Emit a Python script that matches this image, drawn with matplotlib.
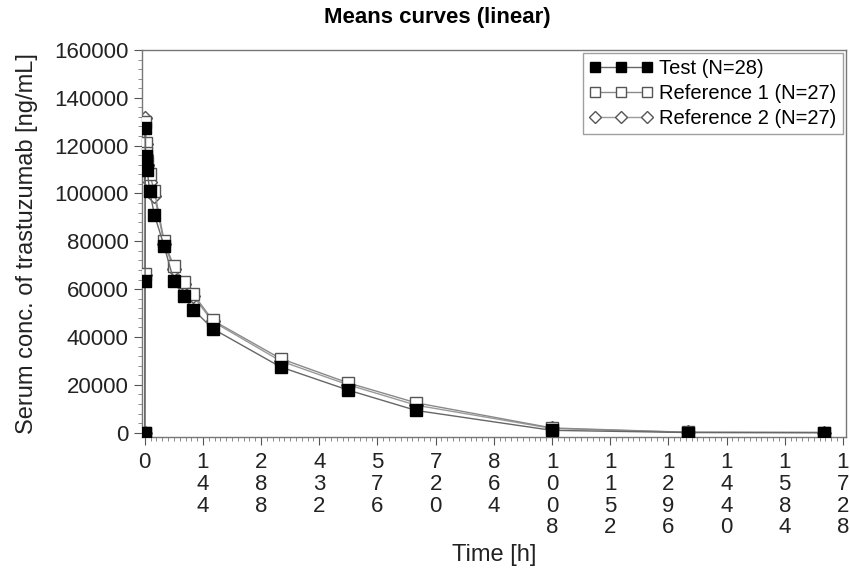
import matplotlib.pyplot as plt
from matplotlib.ticker import MultipleLocator
import numpy as np

plt.rcParams["font.family"] = ["Liberation Sans", "DejaVu Sans"]

# 時間と平均濃度
time_h = [0, 0.75, 1.5, 2, 4, 6, 12, 24, 48, 72, 96, 120, 168,
          336, 504, 672, 1008, 1344, 1680]

test_conc = [0, 63500, 127500, 115500, 112000, 110000, 101000, 91000,
             78000, 63500, 57000, 51500, 43500, 27500, 17800, 9300,
             1000, 100, 50]
ref1_conc = [0, 66500, 130000, 121000, 117000, 113000, 108000, 101000,
             80000, 69500, 63000, 58000, 47000, 31000, 20800, 12500,
             2000, 200, 100]
ref2_conc = [0, 66000, 131500, 120500, 116000, 112000, 105000, 99000,
             79000, 68500, 62000, 57000, 46500, 30000, 20000, 11500,
             1800, 150, 80]

x_ticks = [0, 144, 288, 432, 576, 720, 864, 1008, 1152, 1296, 1440, 1584, 1728]
y_ticks = [0, 20000, 40000, 60000, 80000, 100000, 120000, 140000, 160000]

fig = plt.figure(figsize=(8.5, 5.74), dpi=100)
ax = fig.add_axes([0.167, 0.239, 0.828, 0.674])

ax.plot(time_h, ref2_conc, "-", color="#9a9a9a", lw=1.0,
        marker="D", ms=7, mfc="white", mec="#555555", mew=1.0,
        label="Reference 2 (N=27)", zorder=2)
ax.plot(time_h, ref1_conc, "-", color="#8a8a8a", lw=1.0,
        marker="s", ms=8, mfc="white", mec="#555555", mew=1.0,
        label="Reference 1 (N=27)", zorder=3)
ax.plot(time_h, test_conc, "-", color="#666666", lw=1.0,
        marker="s", ms=9, mfc="black", mec="black",
        label="Test (N=28)", zorder=4)

ax.set_xlim(-7, 1735)
ax.set_ylim(-1700, 160000)

ax.set_xticks(x_ticks)
ax.set_xticklabels(["\n".join(str(v)) for v in x_ticks], linespacing=1.05)
ax.xaxis.set_minor_locator(MultipleLocator(14.4))
ax.set_yticks(y_ticks)
ax.yaxis.set_minor_locator(MultipleLocator(4000))

ax.tick_params(axis="both", which="major", labelsize=16, direction="out",
               length=6, color="#555555", labelcolor="#222222")
ax.tick_params(axis="x", which="major", pad=5)
ax.tick_params(axis="both", which="minor", direction="out", length=3,
               color="#777777")
for s in ax.spines.values():
    s.set_color("#777777")
    s.set_linewidth(1.0)

fig.text(437 / 850, 1 - 18 / 574, "Means curves (linear)", fontsize=16,
         fontweight="bold", ha="center", va="center")
ax.set_xlabel("Time [h]", fontsize=17, color="#222222", labelpad=4)
ax.set_ylabel("Serum conc. of trastuzumab [ng/mL]", fontsize=17,
              color="#222222", labelpad=12)

handles, labels = ax.get_legend_handles_labels()
leg = ax.legend(handles[::-1], labels[::-1], loc="upper right", numpoints=3,
                fontsize=14.5, frameon=True, fancybox=False, borderaxespad=0.15,
                handlelength=3.2, handletextpad=0.3, borderpad=0.3,
                labelspacing=0.3)
leg.get_frame().set_edgecolor("#888888")
leg.get_frame().set_linewidth(1.0)
for h in leg.legend_handles:
    h.set_markersize(6.5)

fig.savefig("out.png", dpi=100)
